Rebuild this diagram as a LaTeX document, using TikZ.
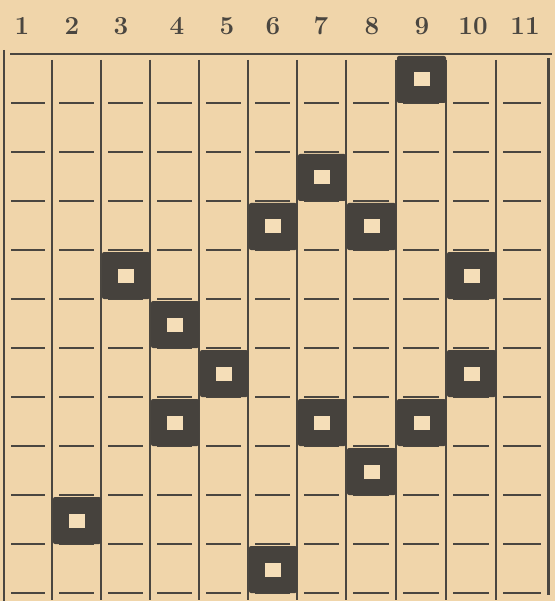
\documentclass[tikz,border=0pt]{standalone}
\definecolor{paper}{HTML}{F0D5AA}
\definecolor{ink}{HTML}{4A4640}
\definecolor{blk}{HTML}{46423D}
\definecolor{hole}{HTML}{F5DEB8}
\begin{document}
\begin{tikzpicture}[x=1pt,y=-1pt,
  gridline/.style={draw=ink, line width=1.4pt},
  dashline/.style={draw=ink, line width=1.5pt},
  numlabel/.style={text=ink, font=\fontsize{26}{28}\selectfont\bfseries, inner sep=0pt},
  blocksq/.style={fill=blk},
  holesq/.style={fill=hole}]
\useasboundingbox[fill=paper] (0,0) rectangle (555,601);
% column boundaries
\def\xs{{4,52,101,150,199,248,297,346,396,446,496,548}}
% numbers
\foreach \i/\x in {1/22,2/72,3/121,4/177,5/227,6/273,7/321,8/372,9/422,10/473,11/525}
  \node[numlabel] (n\i) at (\x,26) {\i};
% frame
\draw[gridline] (4,50) -- (4,601);
\draw[gridline] (10,54) -- (552,54);
\draw[draw=ink, line width=3pt] (548,58) -- (548,595);
\foreach \i in {1,...,10}{
  \pgfmathsetmacro{\xx}{\xs[\i]}
  \draw[gridline] (\xx,60) -- (\xx,600);
}
% dashes
\foreach \c in {0,...,10}{
  \pgfmathsetmacro{\xa}{\xs[\c]+7}
  \pgfmathsetmacro{\xb}{\xs[\c+1]-7}
  \foreach \r in {1,...,11}{
    \draw[dashline] (\xa,54+49*\r) -- (\xb,54+49*\r);
  }
}
% black squares (column,row)
\foreach \c/\r in {9/1,7/3,6/4,8/4,3/5,10/5,4/6,5/7,10/7,4/8,7/8,9/8,8/9,2/10,6/11}{
  \pgfmathsetmacro{\xa}{\xs[\c-1]+1}
  \pgfmathsetmacro{\xb}{\xs[\c]}
  \pgfmathsetmacro{\ya}{54+49*(\r-1)+2}
  \pgfmathsetmacro{\yb}{54+49*\r}
  \pgfmathsetmacro{\xm}{(\xa+\xb)/2}
  \pgfmathsetmacro{\ym}{(\ya+\yb)/2}
  \fill[blocksq, rounded corners=2pt] (\xa,\ya) rectangle (\xb,\yb);
  \fill[holesq] (\xm-8,\ym-7) rectangle (\xm+8,\ym+7);
}
\end{tikzpicture}
\end{document}
